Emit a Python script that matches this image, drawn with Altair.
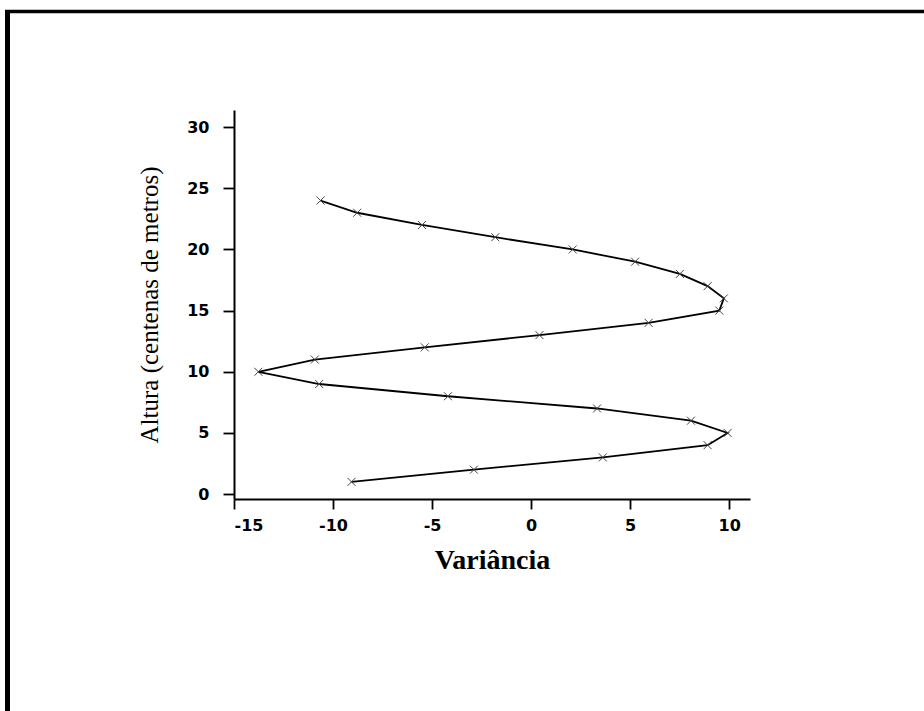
import altair as alt
import pandas as pd

altura = list(range(1, 25))
variancia = [-9.07, -2.89, 3.62, 8.91, 9.92, 8.07, 3.33, -4.20, -10.70, -13.77,
             -10.92, -5.37, 0.42, 5.93, 9.50, 9.73, 8.91, 7.51, 5.25, 2.10,
             -1.81, -5.51, -8.78, -10.63]
x_ticks = [-15, -10, -5, 0, 5, 10]
y_ticks = [0, 5, 10, 15, 20, 25, 30]

df = pd.DataFrame({"altura": altura, "variancia": variancia, "ordem": list(range(len(altura)))})

W, H = 516, 389
PL, PT = 234, 110

xs = alt.X("variancia:Q", scale=alt.Scale(domain=[-15, 11.05], nice=False, zero=False),
           axis=alt.Axis(values=x_ticks, title="Variância", grid=False,
                         labelExpr="'' + datum.value",
                         labelFont="DejaVu Sans", labelFontWeight="bold", labelFontSize=16,
                         labelColor="black", labelPadding=8, tickSize=10, tickWidth=1.8,
                         tickColor="black", domainColor="black", domainWidth=2,
                         titleFont="Liberation Serif", titleFontWeight="bold", titleFontSize=28,
                         titleColor="black", titlePadding=13))
ys = alt.Y("altura:Q", scale=alt.Scale(domain=[-0.4, 31.4], nice=False, zero=False),
           axis=alt.Axis(values=y_ticks, title="Altura (centenas de metros)", grid=False,
                         labelExpr="'' + datum.value",
                         labelFont="DejaVu Sans", labelFontWeight="bold", labelFontSize=16,
                         labelColor="black", labelPadding=14, tickSize=11, tickWidth=1.8,
                         tickColor="black", domainColor="black", domainWidth=2,
                         titleFont="Liberation Serif", titleFontWeight="normal", titleFontSize=25,
                         titleColor="black", titlePadding=24))

line = alt.Chart(df).mark_line(color="black", strokeWidth=1.8).encode(
    x=xs, y=ys, order="ordem:Q")
pts = alt.Chart(df).mark_point(shape="M-1,-1L1,1M-1,1L1,-1", filled=False, size=64,
                               stroke="#444", strokeWidth=1, opacity=1).encode(x=xs, y=ys)

one = pd.DataFrame({"a": [0]})
frame_left = alt.Chart(one).mark_rule(color="black", strokeWidth=5).encode(
    x=alt.value(7.5 - PL), y=alt.value(10 - PT), y2=alt.value(711 - PT))
frame_top = alt.Chart(one).mark_rule(color="black", strokeWidth=3.5).encode(
    x=alt.value(5 - PL), x2=alt.value(924 - PL), y=alt.value(11.5 - PT))

chart = alt.layer(line, pts, frame_left, frame_top).properties(
    width=W, height=H,
    autosize=alt.AutoSizeParams(type="none"),
    padding={"left": PL, "top": PT, "right": 924 - PL - W, "bottom": 711 - PT - H},
    background="white",
).configure_view(stroke=None)

chart.save("out.html", embed_options={"renderer": "svg", "actions": False})
